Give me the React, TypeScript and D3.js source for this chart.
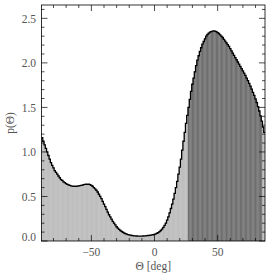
import * as d3 from "d3";

// histogram bins, 1 degree wide, centres -89 .. 87
const binStart = -89;
const values = [
  1.16, 1.12, 1.08, 1.04, 1.0, 0.96, 0.92, 0.88, 0.85, 0.82,
  0.79, 0.77, 0.75, 0.73, 0.71, 0.69, 0.68, 0.665, 0.655, 0.645,
  0.635, 0.63, 0.625, 0.62, 0.617, 0.615, 0.615, 0.615, 0.617, 0.62,
  0.622, 0.625, 0.628, 0.632, 0.635, 0.637, 0.638, 0.637, 0.633, 0.625,
  0.615, 0.6, 0.585, 0.57, 0.55, 0.525, 0.5, 0.475, 0.445, 0.415,
  0.385, 0.355, 0.325, 0.295, 0.27, 0.245, 0.22, 0.2, 0.18, 0.16,
  0.145, 0.13, 0.118, 0.107, 0.098, 0.09, 0.083, 0.077, 0.072, 0.068,
  0.065, 0.062, 0.06, 0.058, 0.057, 0.056, 0.055, 0.055, 0.055, 0.055,
  0.056, 0.057, 0.058, 0.06, 0.062, 0.064, 0.066, 0.068, 0.07, // -> 0
  0.075, 0.08, 0.087, 0.095, 0.105, 0.118, 0.133, 0.152, 0.175, 0.2,
  0.235, 0.27, 0.315, 0.365, 0.415, 0.47, 0.535, 0.6, 0.67, 0.75,
  0.83, 0.92, 1.02, 1.12, 1.22, 1.32, 1.41, 1.5, 1.59, 1.68,
  1.76, 1.83, 1.9, 1.97, 2.03, 2.08, 2.13, 2.17, 2.21, 2.24,
  2.27, 2.3, 2.32, 2.335, 2.345, 2.352, 2.356, 2.358, 2.356, 2.35,
  2.34, 2.33, 2.315, 2.3, 2.285, 2.265, 2.245, 2.225, 2.205, 2.185,
  2.16, 2.135, 2.11, 2.085, 2.06, 2.035, 2.01, 1.985, 1.96, 1.935,
  1.91, 1.885, 1.86, 1.83, 1.8, 1.77, 1.74, 1.705, 1.67, 1.635,
  1.595, 1.555, 1.51, 1.46, 1.405, 1.345, 1.28, 1.22,
];
const darkFrom = 27; // shaded interval (bin centres)
const darkTo = 85;

const xMajor = [-50, 0, 50];
const yMajor = [0, 0.5, 1.0, 1.5, 2.0, 2.5];

const W = 274;
const H = 274;
const m = { left: 41.5, right: 265, top: 5, bottom: 241 };

export default function App() {
  const x = d3.scaleLinear().domain([-89.5, 87.5]).range([m.left, m.right]);
  const y = d3.scaleLinear().domain([0, 2.65]).range([m.bottom, m.top]);

  const bins = values.map((v, i) => ({ c: binStart + i, v }));
  const pts: [number, number][] = [];
  bins.forEach((b) => {
    pts.push([b.c - 0.5, b.v]);
    pts.push([b.c + 0.5, b.v]);
  });
  const line = d3
    .line<[number, number]>()
    .x((d) => x(d[0]))
    .y((d) => y(d[1]));

  const xMinor = d3.range(-80, 90, 10);
  const yMinor = d3.range(0, 2.65, 0.1);
  const font = "'Liberation Serif', serif";

  return (
    <svg
      width={W}
      height={H}
      style={{ position: "absolute", left: 0, top: 0, background: "#fff" }}
    >
      <defs>
        <clipPath id="plot">
          <rect x={m.left} y={m.top} width={m.right - m.left} height={m.bottom - m.top} />
        </clipPath>
      </defs>
      <g clipPath="url(#plot)">
        {bins.map((b) => {
          const dark = b.c >= darkFrom && b.c <= darkTo;
          return (
            <rect
              key={b.c}
              x={x(b.c - 0.5)}
              width={x(b.c + 0.5) - x(b.c - 0.5)}
              y={y(b.v)}
              height={y(0) - y(b.v)}
              fill={dark ? "#6e6e6e" : "#c0c0c0"}
              stroke={dark ? "#777" : "#b6b6b6"}
              strokeWidth={0.3}
            />
          );
        })}
        <path d={line(pts) ?? ""} fill="none" stroke="#000" strokeWidth={1.3} />
      </g>
      <rect
        x={m.left}
        y={m.top}
        width={m.right - m.left}
        height={m.bottom - m.top}
        fill="none"
        stroke="#000"
        strokeWidth={0.8}
      />
      <g stroke="#000" strokeWidth={0.7}>
        {xMinor.map((t) => (
          <g key={"xm" + t}>
            <line x1={x(t)} x2={x(t)} y1={m.bottom} y2={m.bottom - (t % 50 === 0 ? 6 : 3)} />
            <line x1={x(t)} x2={x(t)} y1={m.top} y2={m.top + (t % 50 === 0 ? 6 : 3)} />
          </g>
        ))}
        {yMinor.map((t, i) => (
          <g key={"ym" + i}>
            <line x1={m.left} x2={m.left + (i % 5 === 0 ? 6 : 3)} y1={y(t)} y2={y(t)} />
            <line x1={m.right} x2={m.right - (i % 5 === 0 ? 6 : 3)} y1={y(t)} y2={y(t)} />
          </g>
        ))}
      </g>
      <g fontFamily={font} fontSize={11.5} fill="#555">
        {xMajor.map((t) => (
          <text key={"xl" + t} x={x(t)} y={256} textAnchor="middle">
            {t < 0 ? "\u2212" + Math.abs(t) : t}
          </text>
        ))}
        {yMajor.map((t) => (
          <text
            key={"yl" + t}
            x={36}
            y={y(t) + (t === 0 ? -0.5 : 4.5)}
            textAnchor="end"
          >
            {t.toFixed(1)}
          </text>
        ))}
        <text x={(m.left + m.right) / 2} y={269.5} textAnchor="middle">
          {"\u0398 [deg]"}
        </text>
        <text
          transform={`translate(14,${(m.top + m.bottom) / 2}) rotate(-90)`}
          textAnchor="middle"
        >
          {"p(\u0398)"}
        </text>
      </g>
    </svg>
  );
}
